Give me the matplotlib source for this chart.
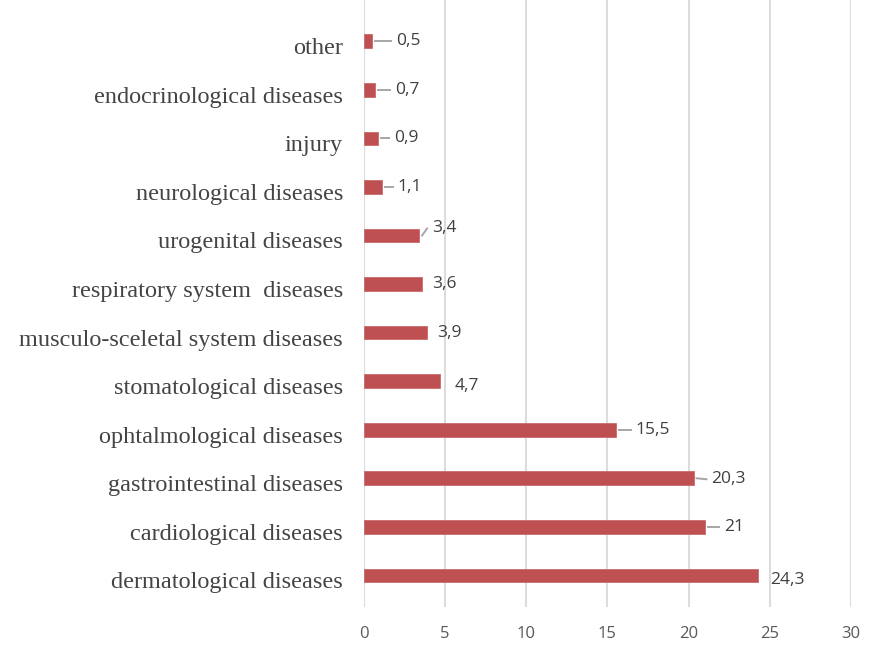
import matplotlib
matplotlib.use("Agg")
import matplotlib.pyplot as plt
from matplotlib.transforms import offset_copy, ScaledTranslation

categories = [
    "dermatological diseases",
    "cardiological diseases",
    "gastrointestinal diseases",
    "ophtalmological diseases",
    "stomatological diseases",
    "musculo-sceletal system diseases",
    "respiratory system  diseases",
    "urogenital diseases",
    "neurological diseases",
    "injury",
    "endocrinological diseases",
    "other",
]
values = [24.3, 21, 20.3, 15.5, 4.7, 3.9, 3.6, 3.4, 1.1, 0.9, 0.7, 0.5]
value_labels = ["24,3", "21", "20,3", "15,5", "4,7", "3,9", "3,6", "3,4", "1,1", "0,9", "0,7", "0,5"]
xticks = [0, 5, 10, 15, 20, 25, 30]

# label placement: (dx px right, dy px up, leader line)
label_style = {
    "dermatological diseases": (12, -5, False),
    "cardiological diseases": (19, 0, True),
    "gastrointestinal diseases": (18, -1, True),
    "ophtalmological diseases": (20, 0, True),
    "stomatological diseases": (14, -5, False),
    "musculo-sceletal system diseases": (10, 0, False),
    "respiratory system  diseases": (10, 0, False),
    "urogenital diseases": (13, 7, True),
    "neurological diseases": (16, 0, True),
    "injury": (16, 0, True),
    "endocrinological diseases": (20, 0, True),
    "other": (24, 0, True),
}

PX = 0.72  # points per pixel at 100 dpi

fig = plt.figure(figsize=(8.81, 6.45), dpi=100)
ax = fig.add_axes([0.413, 0.059, 0.553, 0.941])

ypos = list(range(len(categories)))
ax.barh(ypos, values, height=0.28, color="#BF5052", edgecolor="#C96A6C",
        linewidth=0.6, zorder=3)

ax.set_xlim(0, 30)
ax.set_ylim(-0.65, 11.85)
ax.set_xticks(xticks)
ax.set_xticklabels([str(t) for t in xticks], fontsize=12, color="#595959",
                   family=["Open Sans", "DejaVu Sans"])
ax.set_yticks(ypos)
ax.set_yticklabels(categories, fontsize=17.5, color="#444444",
                   family=["Liberation Serif", "DejaVu Serif"])
ax.tick_params(axis="both", length=0)
ax.tick_params(axis="x", pad=14)
ax.tick_params(axis="y", pad=15)
shift = ScaledTranslation(0, -5 / 100, fig.dpi_scale_trans)
for lbl in ax.get_yticklabels():
    lbl.set_transform(lbl.get_transform() + shift)
for s in ax.spines.values():
    s.set_visible(False)
ax.xaxis.grid(True, color="#DCDCDC", linewidth=1.5, zorder=0)
ax.set_axisbelow(True)

for y, v, lab, cat in zip(ypos, values, value_labels, categories):
    dx, dy, leader = label_style[cat]
    tr = offset_copy(ax.transData, fig=fig, x=dx * PX, y=dy * PX, units="points")
    ax.text(v, y, lab, transform=tr, ha="left", va="center", fontsize=12.5,
            color="#404040", family=["Open Sans", "DejaVu Sans"])
    if leader:
        t0 = offset_copy(ax.transData, fig=fig, x=3 * PX, y=0, units="points")
        t1 = offset_copy(ax.transData, fig=fig, x=(dx - 5) * PX, y=dy * PX, units="points")
        p0 = t0.transform((v, y))
        p1 = t1.transform((v, y))
        fig.add_artist(plt.Line2D([p0[0], p1[0]], [p0[1], p1[1]], transform=None,
                                  color="#A6A6A6", linewidth=1.4))

fig.savefig("out.png", dpi=100, facecolor="white")
